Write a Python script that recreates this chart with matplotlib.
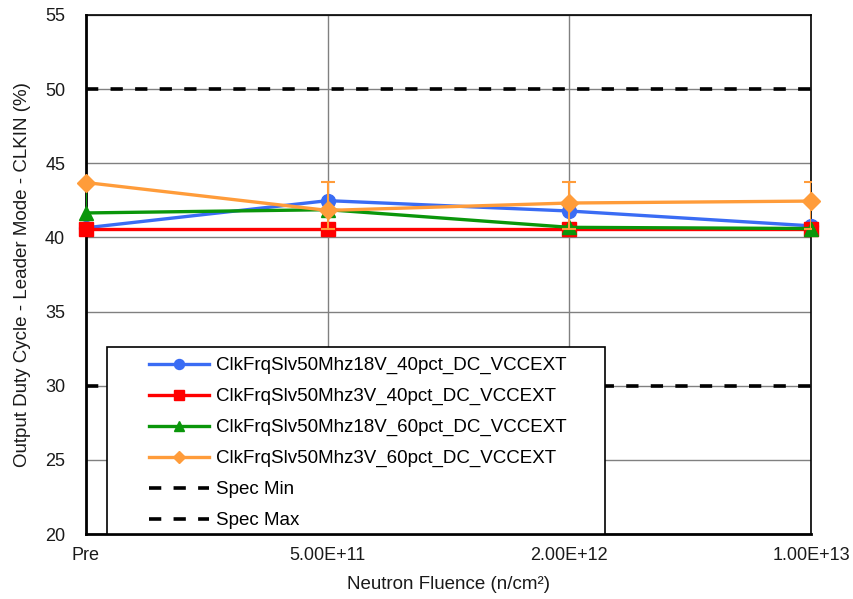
import numpy as np
import matplotlib
matplotlib.use('Agg')
import matplotlib.pyplot as plt
from matplotlib.patches import Rectangle

plt.rcParams['font.family'] = ['Liberation Sans', 'DejaVu Sans']

# Duty cycle vs. neutron fluence
fluence_labels = ['Pre', '5.00E+11', '2.00E+12', '1.00E+13']
dc18v_40 = [40.65, 42.48, 41.78, 40.78]
dc3v_40 = [40.6, 40.6, 40.6, 40.6]
dc18v_60 = [41.65, 41.87, 40.68, 40.6]
dc3v_60 = [43.7, 41.82, 42.32, 42.45]

# error bar limits (upper / lower) for the 60 % series
err_hi_3v_60 = [43.7, 43.72, 43.72, 43.72]
err_lo_3v_60 = [43.7, 40.6, 40.6, 40.6]
err_hi_18v_60 = [43.7, 41.87, 40.68, 40.6]

spec_min = 30
spec_max = 50

x = np.arange(len(fluence_labels))

fig, ax = plt.subplots(figsize=(8.54, 5.99), dpi=100)
fig.subplots_adjust(left=0.1007, right=0.9497, top=0.975, bottom=0.1085)

ax.set_xlim(0, 3)
ax.set_ylim(20, 55)
ax.set_yticks(np.arange(20, 56, 5))
ax.set_xticks(x)
ax.set_xticklabels(fluence_labels)
ax.grid(True, color='#808080', linewidth=1.0, zorder=0)
ax.set_axisbelow(True)
ax.tick_params(length=0, labelsize=13, colors='#1a1a1a')
ax.tick_params(axis='y', pad=15)
ax.tick_params(axis='x', pad=9)

for side in ['left', 'bottom']:
    ax.spines[side].set_linewidth(2.0)
for side in ['top', 'right']:
    ax.spines[side].set_linewidth(1.2)

# spec limits
spec_style = dict(color='black', linewidth=2.6, linestyle=(0, (3.4, 3.4)), zorder=2)
h_min, = ax.plot(x, [spec_min] * len(x), **spec_style)
h_max, = ax.plot(x, [spec_max] * len(x), **spec_style)

series = [
    (dc18v_40, '#3a6cf4', 'o', 'ClkFrqSlv50Mhz18V_40pct_DC_VCCEXT'),
    (dc3v_40, '#ff0000', 's', 'ClkFrqSlv50Mhz3V_40pct_DC_VCCEXT'),
    (dc18v_60, '#0a960a', '^', 'ClkFrqSlv50Mhz18V_60pct_DC_VCCEXT'),
    (dc3v_60, '#ff9c3a', 'D', 'ClkFrqSlv50Mhz3V_60pct_DC_VCCEXT'),
]

handles = []
for i, (vals, color, marker, label) in enumerate(series):
    vals = np.array(vals)
    if i == 2:
        hi = np.array(err_hi_18v_60) - vals
        hi[1:] = 0
        ax.errorbar(x, vals, yerr=[np.zeros_like(vals), hi], fmt='none',
                    ecolor=color, elinewidth=1.5, capsize=0, zorder=3 + i)
    if i == 3:
        hi = np.array(err_hi_3v_60) - vals
        lo = vals - np.array(err_lo_3v_60)
        ax.errorbar(x[1:], vals[1:], yerr=[lo[1:], hi[1:]], fmt='none',
                    ecolor=color, elinewidth=1.5, capsize=5, capthick=1.5,
                    zorder=3 + i)
    ms = 9 if marker == 'D' else 10
    h, = ax.plot(x, vals, color=color, marker=marker, markersize=ms,
                 linewidth=2.4, label=label, zorder=3 + i, clip_on=False)
    handles.append(h)

handles += [h_min, h_max]
labels = [s[3] for s in series] + ['Spec Min', 'Spec Max']

# legend box
ax.add_patch(Rectangle((0.029, 0.0), 0.687, 0.36, transform=ax.transAxes,
                       facecolor='white', edgecolor='black', linewidth=1.2,
                       zorder=10))
leg = ax.legend(handles, labels, loc='upper left', bbox_to_anchor=(0.082, 0.348),
                frameon=False, fontsize=13.5, handlelength=3.2,
                handletextpad=0.35, labelspacing=0.73, markerscale=0.72,
                borderpad=0.2, borderaxespad=0)
leg.set_zorder(11)

ax.set_xlabel('Neutron Fluence (n/cm²)', fontsize=13.5, labelpad=9, color='#1a1a1a')
ax.set_ylabel('Output Duty Cycle - Leader Mode - CLKIN (%)', fontsize=13.5,
              labelpad=10, color='#1a1a1a')

plt.savefig('out.png', dpi=100, facecolor='white')
plt.close()
